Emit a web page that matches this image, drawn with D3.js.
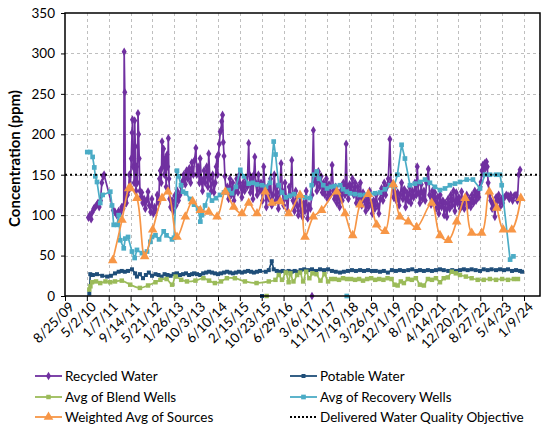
<!DOCTYPE html>
<html>
<head>
<meta charset="utf-8">
<script src="https://cdn.jsdelivr.net/npm/d3@7"></script>
<style>
  body { margin: 0; background: #fff; }
  svg { display: block; font-family: Lato, "Open Sans", sans-serif; }
</style>
</head>
<body>
<svg id="chart"></svg>
<script>
const width = 548;
const height = 424;
const margin = { top: 13, right: 8, bottom: 128, left: 65 };

// tick labels on the date axis (every 250 days)
const xTickLabels = ['8/25/09', '5/2/10', '1/7/11', '9/14/11', '5/21/12', '1/26/13', '10/3/13',
  '6/10/14', '2/15/15', '10/23/15', '6/29/16', '3/6/17', '11/11/17', '7/19/18', '3/26/19',
  '12/1/19', '8/7/20', '4/14/21', '12/20/21', '8/27/22', '5/4/23', '1/9/24'];
const yTicks = [0, 50, 100, 150, 200, 250, 300, 350];
const objective = 150;

const recycled = [
  ['2010-05-20', 97], ['2010-06-05', 100], ['2010-06-20', 95], ['2010-07-05', 104], ['2010-07-20', 108],
  ['2010-08-05', 110], ['2010-08-20', 112], ['2010-09-05', 115], ['2010-09-20', 110], ['2010-10-05', 118],
  ['2010-10-20', 140], ['2010-11-05', 148], ['2010-11-15', 150], ['2011-03-01', 106], ['2011-03-20', 104],
  ['2011-04-10', 100], ['2011-05-01', 105], ['2011-05-20', 103], ['2011-06-05', 110], ['2011-06-20', 108],
  ['2011-06-28', 112], ['2011-07-03', 302], ['2011-07-10', 252], ['2011-07-17', 118], ['2011-07-28', 115],
  ['2011-08-10', 125], ['2011-08-20', 130], ['2011-09-01', 150], ['2011-09-12', 135], ['2011-09-22', 170],
  ['2011-10-01', 202], ['2011-10-06', 218], ['2011-10-12', 160], ['2011-10-18', 175], ['2011-10-25', 140],
  ['2011-10-31', 217], ['2011-11-07', 185], ['2011-11-15', 130], ['2011-11-22', 160], ['2011-12-01', 140],
  ['2011-12-08', 226], ['2011-12-15', 200], ['2011-12-22', 170], ['2011-12-30', 130], ['2012-01-10', 122],
  ['2012-01-20', 128], ['2012-02-01', 115], ['2012-02-15', 120], ['2012-03-01', 108], ['2012-03-15', 118],
  ['2012-04-01', 129], ['2012-04-15', 112], ['2012-05-01', 104], ['2012-05-15', 120], ['2012-06-01', 102],
  ['2012-06-15', 110], ['2012-07-01', 106], ['2012-07-15', 125], ['2012-08-01', 115], ['2012-08-10', 145],
  ['2012-08-20', 155], ['2012-08-30', 140], ['2012-09-08', 191], ['2012-09-15', 160], ['2012-09-25', 182],
  ['2012-10-05', 150], ['2012-10-15', 170], ['2012-10-25', 135], ['2012-11-05', 175], ['2012-11-12', 160],
  ['2012-11-19', 195], ['2012-11-26', 145], ['2012-12-05', 120], ['2012-12-15', 110], ['2013-01-01', 118],
  ['2013-01-15', 105], ['2013-02-01', 124], ['2013-02-15', 112], ['2013-03-01', 130], ['2013-03-15', 118],
  ['2013-04-01', 125], ['2013-04-15', 135], ['2013-05-01', 142], ['2013-05-15', 150], ['2013-06-01', 138],
  ['2013-06-15', 155], ['2013-07-01', 145], ['2013-07-17', 158], ['2013-08-01', 140], ['2013-08-15', 165],
  ['2013-09-01', 150], ['2013-09-15', 168], ['2013-09-30', 183], ['2013-10-10', 150], ['2013-10-25', 160],
  ['2013-11-10', 140], ['2013-11-18', 170], ['2013-12-01', 145], ['2013-12-15', 130], ['2014-01-01', 155],
  ['2014-01-15', 140], ['2014-02-01', 160], ['2014-02-15', 135], ['2014-02-24', 176], ['2014-03-10', 145],
  ['2014-03-25', 130], ['2014-04-10', 150], ['2014-04-25', 128], ['2014-05-10', 140], ['2014-05-20', 160],
  ['2014-05-30', 172], ['2014-06-05', 150], ['2014-06-15', 175], ['2014-06-25', 188], ['2014-07-05', 203],
  ['2014-07-15', 205], ['2014-07-22', 216], ['2014-08-01', 224], ['2014-08-10', 190], ['2014-08-18', 173],
  ['2014-08-28', 148], ['2014-09-10', 130], ['2014-09-25', 135], ['2014-10-10', 120], ['2014-10-25', 145],
  ['2014-11-10', 125], ['2014-11-25', 140], ['2014-12-10', 118], ['2014-12-25', 130], ['2015-01-10', 145],
  ['2015-01-25', 128], ['2015-02-10', 150], ['2015-02-25', 135], ['2015-03-10', 122], ['2015-03-25', 140],
  ['2015-04-10', 130], ['2015-04-25', 145], ['2015-05-10', 135], ['2015-05-27', 189], ['2015-06-05', 150],
  ['2015-06-15', 128], ['2015-07-01', 145], ['2015-07-15', 120], ['2015-07-25', 150], ['2015-08-05', 172],
  ['2015-08-15', 140], ['2015-09-01', 125], ['2015-09-15', 150], ['2015-10-01', 130], ['2015-10-15', 140],
  ['2015-11-01', 118], ['2015-11-15', 160], ['2015-12-01', 130], ['2015-12-15', 110], ['2016-01-01', 135],
  ['2016-01-15', 120], ['2016-02-01', 145], ['2016-02-15', 112], ['2016-03-01', 125], ['2016-03-15', 150],
  ['2016-04-01', 118], ['2016-04-15', 135], ['2016-05-01', 108], ['2016-05-15', 128], ['2016-06-01', 164],
  ['2016-06-15', 130], ['2016-07-01', 112], ['2016-07-15', 140], ['2016-08-01', 120], ['2016-08-15', 105],
  ['2016-09-01', 135], ['2016-09-15', 125], ['2016-10-01', 168], ['2016-10-15', 118], ['2016-11-01', 105],
  ['2016-11-15', 130], ['2016-12-01', 112], ['2016-12-15', 100], ['2017-01-01', 125], ['2017-01-15', 105],
  ['2017-02-01', 98], ['2017-02-15', 115], ['2017-03-01', 105], ['2017-03-15', 130], ['2017-04-01', 96],
  ['2017-04-15', 112], ['2017-05-01', 108], ['2017-05-20', 125], ['2017-06-05', 205], ['2017-06-15', 140],
  ['2017-07-01', 150], ['2017-07-15', 130], ['2017-08-01', 154], ['2017-08-15', 135], ['2017-09-01', 148],
  ['2017-09-15', 128], ['2017-10-01', 140], ['2017-10-15', 125], ['2017-11-01', 145], ['2017-11-15', 120],
  ['2017-12-01', 138], ['2017-12-15', 125], ['2018-01-05', 162], ['2018-01-20', 130], ['2018-02-01', 120],
  ['2018-02-15', 135], ['2018-03-01', 115], ['2018-03-15', 128], ['2018-04-01', 110], ['2018-04-15', 130],
  ['2018-05-01', 118], ['2018-05-15', 140], ['2018-06-01', 125], ['2018-06-15', 188], ['2018-06-25', 135],
  ['2018-07-10', 120], ['2018-07-25', 138], ['2018-08-10', 130], ['2018-08-25', 145], ['2018-09-10', 125],
  ['2018-09-25', 140], ['2018-10-10', 115], ['2018-10-25', 135], ['2018-11-10', 120], ['2018-11-25', 140],
  ['2018-12-10', 112], ['2018-12-25', 128], ['2019-01-10', 118], ['2019-01-25', 105], ['2019-02-10', 122],
  ['2019-02-25', 110], ['2019-03-10', 130], ['2019-03-25', 115], ['2019-04-10', 102], ['2019-04-25', 118],
  ['2019-05-10', 108], ['2019-05-25', 125], ['2019-06-10', 112], ['2019-06-25', 102], ['2019-07-10', 120],
  ['2019-07-25', 133], ['2019-08-10', 118], ['2019-08-25', 140], ['2019-09-10', 125], ['2019-09-25', 135],
  ['2019-10-10', 145], ['2019-10-28', 194], ['2019-11-10', 140], ['2019-11-25', 138], ['2019-12-10', 122],
  ['2019-12-25', 135], ['2020-01-10', 118], ['2020-01-25', 128], ['2020-02-10', 112], ['2020-02-25', 125],
  ['2020-03-10', 140], ['2020-03-25', 120], ['2020-04-10', 132], ['2020-04-25', 110], ['2020-05-10', 128],
  ['2020-05-25', 118], ['2020-06-10', 135], ['2020-06-25', 115], ['2020-07-10', 130], ['2020-07-25', 122],
  ['2020-08-10', 140], ['2020-08-25', 125], ['2020-09-05', 160], ['2020-09-20', 128], ['2020-10-05', 115],
  ['2020-10-20', 138], ['2020-11-05', 120], ['2020-11-20', 130], ['2020-12-05', 118], ['2020-12-20', 140],
  ['2021-01-10', 157], ['2021-01-25', 125], ['2021-02-10', 113], ['2021-02-25', 130], ['2021-03-10', 118],
  ['2021-03-25', 128], ['2021-04-10', 108], ['2021-04-25', 122], ['2021-05-10', 102], ['2021-05-25', 125],
  ['2021-06-10', 110], ['2021-06-25', 118], ['2021-07-10', 100], ['2021-07-25', 115], ['2021-08-10', 98],
  ['2021-08-25', 120], ['2021-09-10', 108], ['2021-09-25', 125], ['2021-10-10', 112], ['2021-10-25', 130],
  ['2021-11-10', 105], ['2021-11-25', 128], ['2021-12-10', 115], ['2021-12-25', 122], ['2022-01-10', 108],
  ['2022-01-25', 129], ['2022-02-10', 112], ['2022-02-25', 108], ['2022-03-10', 118], ['2022-03-25', 125],
  ['2022-04-10', 112], ['2022-04-25', 120], ['2022-05-10', 110], ['2022-05-25', 125], ['2022-06-10', 115],
  ['2022-06-25', 130], ['2022-07-10', 118], ['2022-07-25', 128], ['2022-08-10', 122], ['2022-08-25', 135],
  ['2022-09-05', 141], ['2022-09-15', 155], ['2022-09-25', 162], ['2022-10-05', 150], ['2022-10-15', 164],
  ['2022-10-25', 158], ['2022-11-05', 166], ['2022-11-15', 160], ['2022-11-25', 140], ['2022-12-10', 125],
  ['2022-12-25', 118], ['2023-01-10', 108], ['2023-01-25', 115], ['2023-02-10', 98], ['2023-02-25', 122],
  ['2023-03-10', 117], ['2023-03-25', 125], ['2023-04-10', 110], ['2023-04-25', 120], ['2023-05-10', 115],
  ['2023-06-01', 122], ['2023-06-20', 125], ['2023-07-10', 124], ['2023-07-25', 120], ['2023-08-10', 125],
  ['2023-09-01', 118], ['2023-09-20', 124], ['2023-10-10', 125], ['2023-10-25', 118], ['2023-11-10', 150],
  ['2023-11-25', 156]
];

const potable = [
  ['2010-05-30', 3], ['2010-06-10', 27], ['2010-07-10', 26], ['2010-08-26', 27], ['2010-10-25', 25],
  ['2010-12-20', 24], ['2011-02-01', 25], ['2011-03-20', 28], ['2011-05-01', 30], ['2011-06-05', 31],
  ['2011-07-10', 30], ['2011-08-16', 31], ['2011-09-30', 33], ['2011-11-05', 28], ['2011-11-26', 24],
  ['2011-12-30', 27], ['2012-02-03', 22], ['2012-03-07', 26], ['2012-04-10', 29], ['2012-05-16', 25],
  ['2012-06-25', 27], ['2012-07-30', 26], ['2012-09-03', 24], ['2012-10-07', 27], ['2012-11-10', 26],
  ['2012-12-15', 25], ['2013-01-20', 27], ['2013-02-26', 28], ['2013-04-01', 26], ['2013-05-06', 27],
  ['2013-06-09', 28], ['2013-07-14', 26], ['2013-08-17', 27], ['2013-09-09', 28], ['2013-10-13', 27],
  ['2013-11-18', 26], ['2013-12-22', 28], ['2014-01-25', 29], ['2014-02-28', 30], ['2014-04-02', 29],
  ['2014-05-06', 28], ['2014-06-10', 27], ['2014-07-14', 28], ['2014-08-18', 29], ['2014-09-22', 30],
  ['2014-10-25', 29], ['2014-11-28', 28], ['2015-01-01', 29], ['2015-02-05', 30], ['2015-03-11', 29],
  ['2015-04-14', 30], ['2015-05-19', 31], ['2015-06-22', 30], ['2015-07-26', 29], ['2015-08-30', 30],
  ['2015-10-03', 31], ['2015-12-08', 30], ['2016-01-12', 32], ['2016-02-15', 43], ['2016-03-08', 33],
  ['2016-04-12', 31], ['2016-05-16', 30], ['2016-06-19', 31], ['2016-07-24', 30], ['2016-08-26', 31],
  ['2016-09-30', 30], ['2016-11-03', 31], ['2016-12-07', 30], ['2017-01-10', 32], ['2017-02-20', 33],
  ['2017-04-05', 32], ['2017-05-20', 33], ['2017-07-05', 31], ['2017-08-20', 33], ['2017-10-05', 32],
  ['2017-11-20', 33], ['2018-01-03', 31], ['2018-02-17', 30], ['2018-04-06', 29], ['2018-05-20', 30],
  ['2018-07-05', 31], ['2018-08-20', 32], ['2018-10-05', 31], ['2018-11-21', 32], ['2019-01-05', 31],
  ['2019-02-20', 32], ['2019-04-06', 31], ['2019-05-20', 31], ['2019-07-07', 30], ['2019-08-20', 31],
  ['2019-10-05', 29], ['2019-11-20', 32], ['2020-01-05', 31], ['2020-02-20', 32], ['2020-04-05', 31],
  ['2020-05-25', 32], ['2020-07-10', 33], ['2020-08-25', 31], ['2020-10-06', 32], ['2020-11-20', 31],
  ['2021-01-05', 32], ['2021-02-20', 31], ['2021-04-07', 32], ['2021-05-23', 33], ['2021-07-05', 32],
  ['2021-08-26', 31], ['2021-10-10', 32], ['2021-11-25', 31], ['2022-01-07', 32], ['2022-02-20', 33],
  ['2022-04-05', 32], ['2022-05-20', 33], ['2022-07-05', 32], ['2022-08-24', 31], ['2022-10-05', 33],
  ['2022-11-20', 32], ['2023-01-03', 33], ['2023-02-23', 32], ['2023-04-10', 33], ['2023-05-25', 32],
  ['2023-07-10', 33], ['2023-08-25', 31], ['2023-10-10', 32], ['2023-11-25', 31], ['2023-12-18', 30]
];

const blendWells = [
  ['2010-05-30', 8], ['2010-06-12', 12], ['2010-06-30', 17], ['2010-08-15', 18], ['2010-10-02', 16],
  ['2010-12-01', 18], ['2011-01-25', 17], ['2011-03-20', 18], ['2011-06-05', 19], ['2011-09-10', 14],
  ['2011-12-30', 10], ['2012-04-01', 13], ['2012-06-25', 17], ['2012-08-20', 20], ['2012-10-30', 21],
  ['2013-01-01', 14], ['2013-02-10', 24], ['2013-04-15', 20], ['2013-06-20', 18], ['2013-09-25', 19],
  ['2013-12-25', 22], ['2014-02-28', 19], ['2014-05-06', 16], ['2014-07-14', 18], ['2014-09-20', 22],
  ['2014-12-20', 22], ['2015-04-14', 18], ['2015-08-25', 16], ['2016-01-12', 18], ['2016-03-28', 20],
  ['2016-05-05', 26], ['2016-06-11', 20], ['2016-07-24', 29], ['2016-08-26', 17], ['2016-09-15', 28],
  ['2016-10-20', 18], ['2016-12-01', 26], ['2017-01-03', 29], ['2017-02-08', 18], ['2017-03-15', 30],
  ['2017-04-20', 22], ['2017-05-25', 28], ['2017-07-10', 27], ['2017-08-25', 19], ['2017-10-10', 27],
  ['2017-11-20', 18], ['2017-12-25', 21], ['2018-02-05', 21], ['2018-03-25', 20], ['2018-05-10', 22],
  ['2018-06-25', 21], ['2018-08-10', 21], ['2018-09-25', 20], ['2018-11-10', 21], ['2018-12-25', 19],
  ['2019-02-10', 21], ['2019-03-28', 22], ['2019-05-13', 20], ['2019-06-28', 21], ['2019-08-15', 20],
  ['2019-10-01', 22], ['2019-11-15', 21], ['2019-12-20', 14], ['2020-01-25', 13], ['2020-03-01', 18],
  ['2020-04-05', 16], ['2020-05-20', 21], ['2020-07-05', 20], ['2020-08-20', 22], ['2020-10-05', 14],
  ['2020-11-20', 13], ['2021-01-05', 21], ['2021-02-20', 20], ['2021-04-07', 22], ['2021-05-23', 17],
  ['2021-07-05', 22], ['2021-08-20', 23], ['2021-10-05', 30], ['2021-11-20', 28], ['2022-01-07', 26],
  ['2022-03-15', 24], ['2022-05-20', 22], ['2022-07-28', 20], ['2022-10-05', 20], ['2022-12-15', 21],
  ['2023-02-23', 20], ['2023-05-04', 21], ['2023-07-10', 20], ['2023-09-15', 21], ['2023-11-01', 21]
];

const recoveryWells = [
  ['2010-05-07', 178], ['2010-06-10', 178], ['2010-07-07', 172], ['2010-07-26', 159], ['2010-08-07', 148],
  ['2010-08-26', 141], ['2010-10-02', 115], ['2010-10-30', 125], ['2011-01-25', 129], ['2011-02-14', 112],
  ['2011-03-05', 88], ['2011-04-12', 88], ['2011-05-01', 100], ['2011-05-20', 69], ['2011-06-28', 59],
  ['2011-07-16', 71], ['2011-08-16', 73], ['2011-09-30', 55], ['2011-10-31', 47], ['2011-11-26', 57],
  ['2012-01-22', 53], ['2012-03-20', 55], ['2012-04-27', 67], ['2012-05-16', 73], ['2012-06-25', 75],
  ['2012-08-05', 70], ['2012-09-27', 80], ['2012-10-29', 75], ['2012-12-31', 70], ['2013-01-23', 72],
  ['2013-02-26', 155], ['2013-03-17', 148], ['2013-04-13', 137], ['2013-05-06', 129], ['2013-06-09', 127],
  ['2013-07-25', 120], ['2013-09-09', 113], ['2013-10-25', 108], ['2013-11-20', 92], ['2013-12-09', 100],
  ['2014-01-13', 112], ['2014-02-24', 125], ['2014-04-02', 118], ['2014-05-18', 121], ['2014-07-03', 125],
  ['2014-08-18', 128], ['2014-10-10', 131], ['2014-11-17', 127], ['2015-01-01', 135], ['2015-02-20', 156],
  ['2015-04-03', 148], ['2015-05-27', 139], ['2015-07-15', 140], ['2015-08-30', 138], ['2015-10-26', 137],
  ['2015-12-11', 135], ['2016-01-26', 140], ['2016-03-08', 191], ['2016-03-29', 175], ['2016-05-04', 137],
  ['2016-06-11', 128], ['2016-07-26', 122], ['2016-09-10', 124], ['2016-10-26', 126], ['2017-01-03', 123],
  ['2017-03-01', 122], ['2017-04-28', 121], ['2017-05-17', 137], ['2017-06-13', 150], ['2017-07-13', 154],
  ['2017-08-09', 145], ['2017-09-26', 137], ['2017-11-08', 133], ['2017-12-23', 135], ['2018-02-07', 136],
  ['2018-04-06', 137], ['2018-05-10', 132], ['2018-06-22', 129], ['2018-07-29', 127], ['2018-09-24', 126],
  ['2018-11-21', 125], ['2019-01-17', 125], ['2019-03-15', 126], ['2019-05-11', 127], ['2019-07-07', 128],
  ['2019-09-02', 132], ['2019-10-29', 137], ['2019-12-14', 135], ['2020-01-22', 150], ['2020-03-10', 187],
  ['2020-04-17', 170], ['2020-06-14', 137], ['2020-08-10', 139], ['2020-10-06', 141], ['2020-12-03', 144],
  ['2021-01-28', 140], ['2021-03-26', 135], ['2021-05-23', 131], ['2021-07-19', 133], ['2021-09-14', 137],
  ['2021-11-11', 139], ['2022-01-07', 141], ['2022-03-25', 144], ['2022-06-04', 144], ['2022-08-24', 133],
  ['2022-10-20', 150], ['2022-12-16', 150], ['2023-02-23', 150], ['2023-04-10', 150], ['2023-04-29', 137],
  ['2023-08-03', 45], ['2023-09-10', 49]
];

const weightedAvg = [
  ['2011-02-22', 44], ['2011-06-08', 94], ['2011-08-24', 133], ['2011-09-10', 134], ['2011-11-26', 121],
  ['2012-02-22', 49], ['2012-05-24', 82], ['2012-09-08', 121], ['2012-11-15', 129], ['2013-02-26', 73],
  ['2013-06-01', 98], ['2013-08-24', 117], ['2013-11-20', 106], ['2014-02-24', 104], ['2014-05-30', 98],
  ['2014-09-02', 129], ['2014-12-07', 110], ['2015-03-11', 102], ['2015-05-27', 115], ['2015-08-30', 102],
  ['2015-12-03', 129], ['2016-02-18', 115], ['2016-05-23', 117], ['2016-08-26', 102], ['2017-01-03', 125],
  ['2017-03-01', 73], ['2017-06-04', 98], ['2017-09-08', 106], ['2018-02-27', 129], ['2018-06-02', 102],
  ['2018-08-29', 75], ['2018-11-21', 113], ['2019-02-24', 126], ['2019-05-30', 88], ['2019-09-02', 80],
  ['2019-12-06', 138], ['2020-02-20', 98], ['2020-05-25', 92], ['2020-08-30', 85], ['2021-02-17', 115],
  ['2021-05-23', 75], ['2021-08-26', 69], ['2021-11-30', 92], ['2022-03-06', 121], ['2022-05-21', 78],
  ['2022-09-12', 78], ['2022-12-08', 129], ['2023-03-03', 109], ['2023-05-18', 82], ['2023-08-22', 82],
  ['2023-12-03', 121]
];

// single readings with no neighbours, drawn as markers only
const recycledLone = [['2017-05-20', 0]];
const potableLone = [['2015-10-26', 0]];
const blendLone = [['2015-12-18', 0]];
const recoveryLone = [['2018-06-22', 0]];

const parse = d3.timeParse('%Y-%m-%d');
const parseTick = d3.timeParse('%m/%d/%y');

const series = [
  { name: 'Recycled Water', data: recycled, lone: recycledLone, color: '#7030A0', symbol: d3.symbolDiamond, size: 22, curve: d3.curveLinear },
  { name: 'Potable Water', data: potable, lone: potableLone, color: '#1F4E79', symbol: d3.symbolSquare, size: 16, curve: d3.curveLinear },
  { name: 'Avg of Blend Wells', data: blendWells, lone: blendLone, color: '#9BBB59', symbol: d3.symbolSquare, size: 20, curve: d3.curveCatmullRom },
  { name: 'Avg of Recovery Wells', data: recoveryWells, lone: recoveryLone, color: '#4BACC6', symbol: d3.symbolSquare, size: 22, curve: d3.curveLinear },
  { name: 'Weighted Avg of Sources', data: weightedAvg, lone: [], color: '#F79646', symbol: d3.symbolTriangle, size: 40, curve: d3.curveCatmullRom }
];

const svg = d3.select('#chart')
  .attr('width', width)
  .attr('height', height);

const tickDates = xTickLabels.map(parseTick);

const x = d3.scaleTime()
  .domain([tickDates[0], d3.timeDay.offset(tickDates[tickDates.length - 1], 183)])
  .range([margin.left, width - margin.right]);

const y = d3.scaleLinear()
  .domain([0, 350])
  .range([height - margin.bottom, margin.top]);

// gridlines
const grid = svg.append('g').attr('stroke', '#BFBFBF').attr('stroke-dasharray', '3,3').attr('stroke-width', 1);
grid.selectAll('.gx')
  .data(tickDates.slice(1))
  .enter().append('line')
  .attr('x1', d => Math.round(x(d)) + 0.5).attr('x2', d => Math.round(x(d)) + 0.5)
  .attr('y1', margin.top).attr('y2', height - margin.bottom);
grid.selectAll('.gy')
  .data(yTicks.slice(1, -1))
  .enter().append('line')
  .attr('x1', margin.left).attr('x2', width - margin.right)
  .attr('y1', d => Math.round(y(d)) + 0.5).attr('y2', d => Math.round(y(d)) + 0.5);

// x axis
const xAxis = svg.append('g')
  .attr('transform', `translate(0,${height - margin.bottom})`)
  .call(d3.axisBottom(x).tickValues(tickDates).tickSize(5)
    .tickFormat((d, i) => xTickLabels[i]));
xAxis.select('.domain').remove();
xAxis.selectAll('line').attr('stroke', '#000');
xAxis.selectAll('text')
  .attr('font-size', 13.5)
  .attr('font-family', 'Lato, sans-serif')
  .attr('fill', '#000')
  .attr('text-anchor', 'end')
  .attr('dy', null)
  .attr('transform', 'translate(4,6) rotate(-45)');

// y axis
const yAxis = svg.append('g')
  .attr('transform', `translate(${margin.left},0)`)
  .call(d3.axisLeft(y).tickValues(yTicks).tickSize(4).tickPadding(6));
yAxis.select('.domain').remove();
yAxis.selectAll('line').attr('stroke', '#000');
yAxis.selectAll('text')
  .attr('font-size', 13.5)
  .attr('font-family', 'Lato, sans-serif')
  .attr('fill', '#000');

svg.append('text')
  .attr('transform', `translate(20,${(margin.top + height - margin.bottom) / 2 + 4}) rotate(-90)`)
  .attr('text-anchor', 'middle')
  .attr('font-size', 15)
  .attr('font-weight', 'bold')
  .text('Concentration (ppm)');

// series
const plot = svg.append('g');
series.forEach(s => {
  const pts = s.data.map(d => ({ date: parse(d[0]), value: d[1] }));
  const line = d3.line().x(d => x(d.date)).y(d => y(d.value)).curve(s.curve);
  plot.append('path')
    .datum(pts)
    .attr('fill', 'none')
    .attr('stroke', s.color)
    .attr('stroke-width', 1.7)
    .attr('stroke-linejoin', 'round')
    .attr('d', line);
  const lone = s.lone.map(d => ({ date: parse(d[0]), value: d[1] }));
  plot.append('g').selectAll('path')
    .data(pts.concat(lone))
    .enter().append('path')
    .attr('d', d3.symbol().type(s.symbol).size(s.size))
    .attr('fill', s.color)
    .attr('transform', d => `translate(${x(d.date)},${y(d.value)})`);
});

// delivered water quality objective
svg.append('line')
  .attr('x1', margin.left).attr('x2', width - margin.right)
  .attr('y1', y(objective)).attr('y2', y(objective))
  .attr('stroke', '#000')
  .attr('stroke-width', 2)
  .attr('stroke-dasharray', '2,3');

// plot border
svg.append('rect')
  .attr('x', margin.left).attr('y', margin.top)
  .attr('width', width - margin.left - margin.right)
  .attr('height', height - margin.top - margin.bottom)
  .attr('fill', 'none')
  .attr('stroke', '#000')
  .attr('stroke-width', 1.5);

// legend
const legendItems = series.concat([{ name: 'Delivered Water Quality Objective', color: '#000', dotted: true }]);
const legendPos = [[35, 376], [290, 376], [35, 397], [290, 397], [35, 417], [290, 417]];
const legend = svg.append('g');
legendItems.forEach((s, i) => {
  const [lx, ly] = legendPos[i];
  const g = legend.append('g').attr('transform', `translate(${lx},${ly})`);
  g.append('line')
    .attr('x1', 0).attr('x2', 27)
    .attr('stroke', s.color)
    .attr('stroke-width', s.dotted ? 2 : 1.8)
    .attr('stroke-dasharray', s.dotted ? '2,2' : null);
  if (!s.dotted) {
    g.append('path')
      .attr('d', d3.symbol().type(s.symbol).size(s.size))
      .attr('fill', s.color)
      .attr('transform', 'translate(13.5,0)');
  }
  g.append('text')
    .attr('x', 30)
    .attr('dy', '0.35em')
    .attr('font-size', 13.5)
    .text(s.name);
});
</script>
</body>
</html>
